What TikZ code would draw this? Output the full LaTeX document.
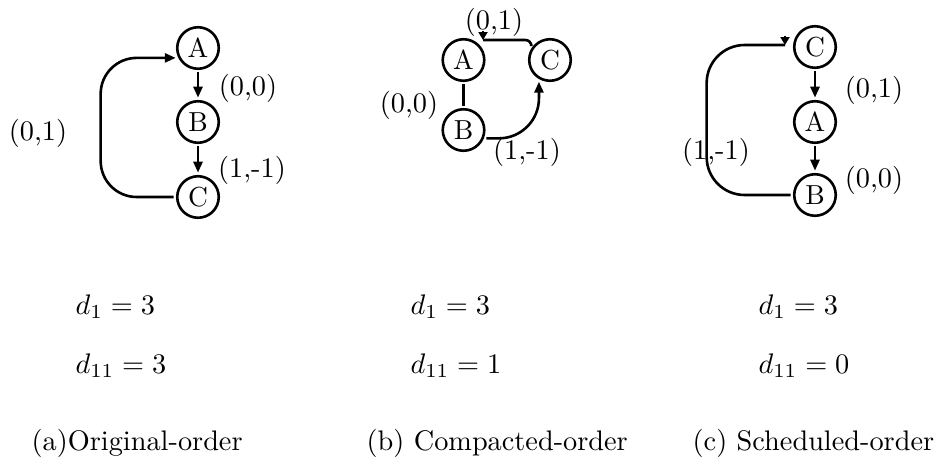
\documentclass[tikz,border=0pt]{standalone}
\usetikzlibrary{arrows.meta,calc}
\begin{document}
\begin{tikzpicture}[x=1pt,y=-1pt, line width=2.6pt,
  font=\fontsize{10}{12}\selectfont,
  vert/.style={circle, draw, scale=2.75, minimum size=15.1pt, inner sep=0pt},
  lbl/.style={inner sep=0pt, scale=2.83},
  txt/.style={anchor=base west, inner sep=0pt, scale=2.83},
  arr/.style={-{Triangle[length=11pt,width=9pt]}},
  tipdown/.style={-{Triangle[length=8pt,width=9pt]}}]
\useasboundingbox (0,0) rectangle (938,458);

% (a) Original order
\node[vert] (aA) at (198,48) {A};
\node[vert] (aB) at (198,122) {B};
\node[vert] (aC) at (198,197) {C};
\draw[arr] (aA) -- (aB);
\draw[arr] (aB) -- (aC);
\draw[arr, rounded corners=36pt] (aC.west) -- ++(-73,0) |- (aA.204);
\node[lbl] (la1) at (248,88) {(0,0)};
\node[lbl] (la2) at (252,170) {(1,-1)};
\node[lbl] (la3) at (38,133) {(0,1)};

% (b) Compacted order
\node[vert] (bA) at (463.5,60) {A};
\node[vert] (bC) at (550,60) {C};
\node[vert] (bB) at (463.5,130) {B};
\draw (bA) -- (bB);
\draw[arr, rounded corners=40pt] (bB.340) -| (bC.243);
\coordinate (bP) at ($(bA.center)+(19.5,-20)$);
\draw[rounded corners=6pt] (bC.140) |- (bP);
\draw[tipdown] ($(bP)+(0,-9)$) -- (bP);
\node[lbl] (lb1) at (409,105) {(0,0)};
\node[lbl] (lb2) at (527,152) {(1,-1)};
\node[lbl] (lb3) at (494,22) {(0,1)};

% (c) Scheduled order
\node[vert] (cC) at (815,47) {C};
\node[vert] (cA) at (815,122) {A};
\node[vert] (cB) at (815,195) {B};
\draw[arr] (cC) -- (cA);
\draw[arr] (cA) -- (cB);
\coordinate (cP) at ($(cC.center)+(-30,-2)$);
\draw[rounded corners=38pt] (cB.west) -- ++(-84,0) |- (cP);
\draw[tipdown] ($(cP)+(0,-9)$) -- (cP);
\node[lbl] (lc1) at (874,90) {(0,1)};
\node[lbl] (lc2) at (874,180) {(0,0)};
\node[lbl] (lc3) at (716,152) {(1,-1)};

% metrics and captions
\node[txt] (ad1) at (72,314) {$d_1 = 3$};
\node[txt] (ad11) at (72,373) {$d_{11} = 3$};
\node[txt] (acap) at (28,450) {(a)Original-order};
\node[txt] (bd1) at (407,314) {$d_1 = 3$};
\node[txt] (bd11) at (407,373) {$d_{11} = 1$};
\node[txt] (bcap) at (363,450) {(b) Compacted-order};
\node[txt] (cd1) at (755,314) {$d_1 = 3$};
\node[txt] (cd11) at (755,373) {$d_{11} = 0$};
\node[txt] (ccap) at (689,450) {(c) Scheduled-order};
\end{tikzpicture}
\end{document}
